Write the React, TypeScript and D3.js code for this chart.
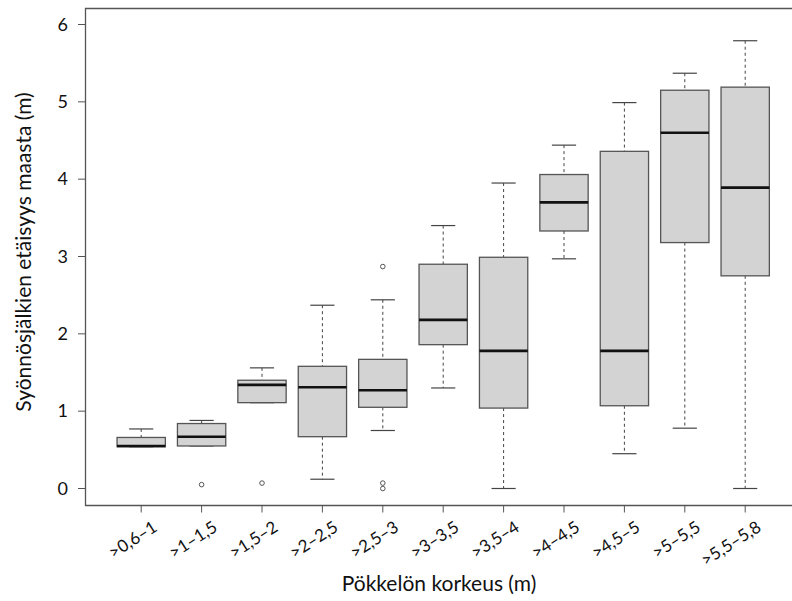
import React from "react";
import * as d3 from "d3";

const categories = [">0,6–1", ">1–1,5", ">1,5–2", ">2–2,5", ">2,5–3", ">3–3,5", ">3,5–4", ">4–4,5", ">4,5–5", ">5–5,5", ">5,5–5,8"];
const lowerWhisker = [0.54, 0.55, 1.11, 0.12, 0.75, 1.30, 0.0, 2.97, 0.45, 0.78, 0.0];
const q1 = [0.54, 0.55, 1.11, 0.67, 1.05, 1.86, 1.04, 3.33, 1.07, 3.18, 2.75];
const median = [0.55, 0.67, 1.34, 1.31, 1.27, 2.18, 1.78, 3.70, 1.78, 4.60, 3.89];
const q3 = [0.66, 0.84, 1.40, 1.58, 1.67, 2.90, 2.99, 4.06, 4.36, 5.15, 5.19];
const upperWhisker = [0.77, 0.88, 1.56, 2.37, 2.44, 3.40, 3.95, 4.44, 4.99, 5.37, 5.79];
const outliers: number[][] = [[], [0.05], [0.07], [], [2.87, 0.07, 0.0], [], [], [], [], [], []];
const yTicks = [0, 1, 2, 3, 4, 5, 6];

const W = 792, H = 601;
const frame = { left: 85.5, top: 8.5, right: 800, bottom: 505.5 };

export default function App() {
  const x = d3.scaleBand<string>().domain(categories).range([111, 111 + 60.4 * 11]).paddingInner(0.2).paddingOuter(0.1);
  const bw = x.bandwidth();
  const cx = (c: string) => (x(c) as number) + bw / 2;
  const y = d3.scaleLinear().domain([0, 6]).range([488.5, 24.5]);
  const font = "Lato, 'Open Sans', sans-serif";
  const boxStroke = "#555";
  return (
    <svg width={W} height={H} style={{ position: "absolute", left: 0, top: 0, background: "#fff" }}>
      <rect x={0} y={0} width={W} height={H} fill="#fff" />
      {/* frame */}
      <path d={`M${frame.right},${frame.top}H${frame.left}V${frame.bottom}H${frame.right}`} fill="none" stroke="#555" strokeWidth={1.3} />
      {/* y axis */}
      {yTicks.map((t) => (
        <g key={t}>
          <line x1={78} x2={frame.left} y1={y(t)} y2={y(t)} stroke="#555" strokeWidth={1} />
          <text x={68} y={y(t)} dy="0.35em" textAnchor="end" fontFamily={font} fontSize={18} fill="#111">{t}</text>
        </g>
      ))}
      <text transform={`translate(31,${252}) rotate(-90)`} textAnchor="middle" fontFamily={font} fontSize={21} fill="#111">Syönnösjälkien etäisyys maasta (m)</text>
      {/* x axis */}
      {categories.map((c) => (
        <g key={c}>
          <line x1={cx(c)} x2={cx(c)} y1={frame.bottom} y2={frame.bottom + 7} stroke="#555" strokeWidth={1} />
          <text transform={`translate(${cx(c) + 17},${530}) rotate(-33)`} textAnchor="end" fontFamily={font} fontSize={17} fill="#111">{c}</text>
        </g>
      ))}
      <text x={439} y={591} textAnchor="middle" fontFamily={font} fontSize={21} fill="#111">Pökkelön korkeus (m)</text>
      {/* boxes */}
      {categories.map((c, i) => {
        const xc = cx(c);
        const x0 = x(c) as number;
        return (
          <g key={c}>
            <line x1={xc} x2={xc} y1={y(upperWhisker[i])} y2={y(q3[i])} stroke="#444" strokeWidth={1} strokeDasharray="3,3" />
            <line x1={xc} x2={xc} y1={y(q1[i])} y2={y(lowerWhisker[i])} stroke="#444" strokeWidth={1} strokeDasharray="3,3" />
            <line x1={xc - bw / 4} x2={xc + bw / 4} y1={y(upperWhisker[i])} y2={y(upperWhisker[i])} stroke="#444" strokeWidth={1.2} />
            <line x1={xc - bw / 4} x2={xc + bw / 4} y1={y(lowerWhisker[i])} y2={y(lowerWhisker[i])} stroke="#444" strokeWidth={1.2} />
            <rect x={x0} y={y(q3[i])} width={bw} height={y(q1[i]) - y(q3[i])} fill="#d3d3d3" stroke={boxStroke} strokeWidth={1.3} />
            <line x1={x0} x2={x0 + bw} y1={y(median[i])} y2={y(median[i])} stroke="#111" strokeWidth={2.6} />
            {outliers[i].map((o, j) => (
              <circle key={j} cx={xc} cy={y(o)} r={2.3} fill="none" stroke="#555" strokeWidth={1} />
            ))}
          </g>
        );
      })}
    </svg>
  );
}
